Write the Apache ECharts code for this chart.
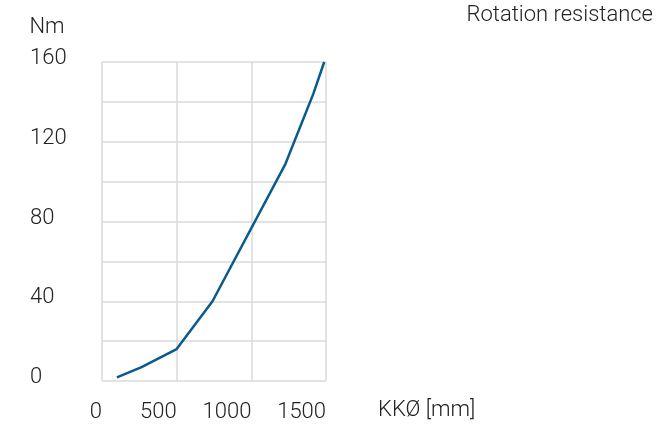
<!DOCTYPE html>
<html>
<head>
<meta charset="utf-8">
<script src="https://cdn.jsdelivr.net/npm/echarts@6/dist/echarts.min.js"></script>
<style>
  html, body { margin: 0; padding: 0; background: #fff; }
  #chart { width: 664px; height: 431px; }
</style>
</head>
<body>
<div id="chart"></div>
<script>
// Casing diameter (mm) and rotation resistance (Nm)
const diameters = [100, 265, 500, 740, 1226, 1415, 1488];
const torque = [1.8, 7, 16, 40, 108.5, 144, 160];
const xTicks = [0, 500, 1000, 1500];
const yTicks = [0, 40, 80, 120, 160];

const FONT = 'Roboto, "Liberation Sans", sans-serif';
const TEXT = '#222222';
const GRID = '#dadada';
const SIZE = 22;
const textStyle = { fontFamily: FONT, fontWeight: 300, fontSize: SIZE, color: TEXT };

const chart = echarts.init(document.getElementById('chart'), null, { renderer: 'canvas' });

chart.setOption({
  animation: false,
  title: {
    text: 'Rotation resistance',
    right: 11,
    top: 4,
    padding: 0,
    textStyle: textStyle
  },
  grid: { left: 102, top: 62, width: 224, height: 319, containLabel: false },
  xAxis: {
    type: 'value',
    min: xTicks[0],
    max: xTicks[xTicks.length - 1],
    interval: 500,
    name: '{n|KKØ [mm]}',
    nameLocation: 'end',
    nameGap: 52,
    nameMoveOverlap: false,
    nameTextStyle: Object.assign({}, textStyle, {
      align: 'left', verticalAlign: 'middle',
      rich: { n: Object.assign({}, textStyle, { padding: [58, 0, 0, 0] }) }
    }),
    axisLine: { show: false },
    axisTick: { show: false },
    axisLabel: Object.assign({}, textStyle, {
      align: 'right', verticalAlign: 'top', margin: 20,
      formatter: v => (xTicks.includes(v) ? String(v) : '')
    }),
    splitLine: { show: true, lineStyle: { color: GRID, width: 1.5 } }
  },
  yAxis: {
    type: 'value',
    min: 0,
    max: 160,
    interval: 20,
    name: 'Nm',
    nameLocation: 'end',
    nameGap: 35,
    nameTextStyle: Object.assign({}, textStyle, {
      align: 'center', verticalAlign: 'middle', padding: [0, 110, 0, 0]
    }),
    axisLine: { show: false },
    axisTick: { show: false },
    axisLabel: Object.assign({}, textStyle, {
      align: 'left', verticalAlign: 'middle', margin: 72,
      formatter: v => (yTicks.includes(v) ? '{v|' + v + '}' : ''),
      rich: { v: Object.assign({}, textStyle, { padding: [0, 0, 7, 0] }) }
    }),
    splitLine: { show: true, lineStyle: { color: GRID, width: 1.5 } }
  },
  series: [{
    type: 'line',
    data: diameters.map((d, i) => [d, torque[i]]),
    showSymbol: false,
    smooth: false,
    clip: true,
    lineStyle: { color: '#0b5a8c', width: 2.5 }
  }]
});
</script>
</body>
</html>
